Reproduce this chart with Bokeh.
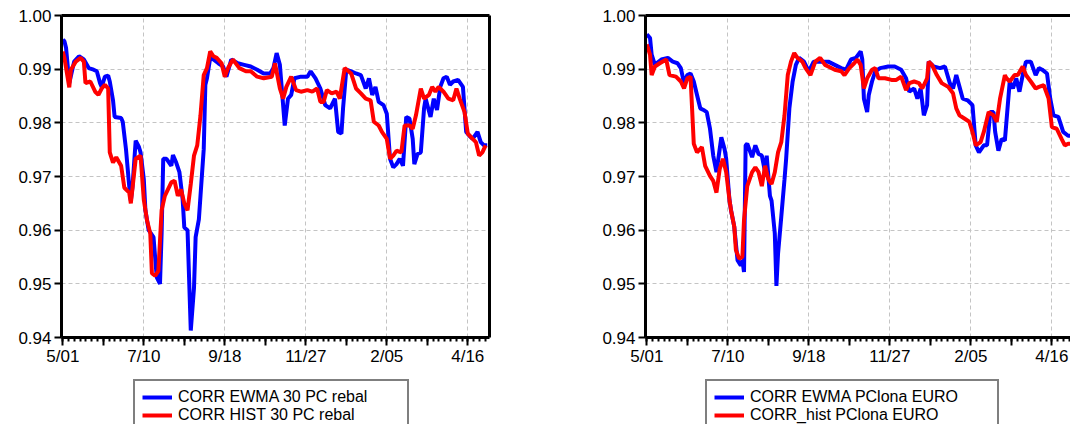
from bokeh.plotting import figure
from bokeh.models import (FixedTicker, LinearAxis, Legend, LegendItem, Range1d,
                          PrintfTickFormatter)
from bokeh.layouts import row, column
from bokeh.embed import file_html
from bokeh.resources import INLINE

# ---------------- data (observation index, correlation) ----------------
X_TICKS = [0, 50, 100, 150, 200, 250]
X_LABELS = ["5/01", "7/10", "9/18", "11/27", "2/05", "4/16"]
Y_TICKS = [0.94, 0.95, 0.96, 0.97, 0.98, 0.99, 1.00]

# left panel: 30 PC rebal
ewma30_x = [0, 1, 2, 4, 7, 10, 13, 16, 19, 21,
            23, 24, 26, 28, 29, 31, 32, 36, 37, 39,
            41, 42, 43, 45, 47, 48, 50, 51, 53, 56,
            58, 60, 61, 62, 64, 67, 68, 70, 72, 74,
            75, 77, 79, 81, 82, 84, 85, 87, 88, 89,
            91, 93, 96, 99, 101, 104, 108, 112, 116, 120,
            124, 128, 130, 132, 134, 136, 137, 139, 141, 143,
            147, 151, 153, 156, 159, 162, 165, 168, 170, 172,
            173, 175, 178, 181, 184, 187, 189, 191, 193, 195,
            198, 200, 202, 204, 206, 208, 210, 212, 214, 216,
            217, 219, 221, 223, 224, 227, 229, 231, 233, 235,
            237, 239, 241, 244, 247, 249, 251, 253, 256, 258,
            260, 262]
ewma30_y = [0.9955, 0.9952, 0.9940, 0.9874, 0.9914, 0.9924, 0.9918, 0.9902, 0.9899, 0.9896,
            0.9874, 0.9867, 0.9886, 0.9888, 0.9877, 0.9842, 0.9811, 0.9809, 0.9802, 0.9751,
            0.9682, 0.9655, 0.9680, 0.9767, 0.9755, 0.9745, 0.9695, 0.9637, 0.9600, 0.9587,
            0.9512, 0.9500, 0.9594, 0.9733, 0.9733, 0.9720, 0.9740, 0.9726, 0.9708, 0.9657,
            0.9605, 0.9600, 0.9413, 0.9493, 0.9587, 0.9620, 0.9664, 0.9751, 0.9871, 0.9883,
            0.9921, 0.9918, 0.9911, 0.9905, 0.9886, 0.9918, 0.9911, 0.9908, 0.9905, 0.9899,
            0.9892, 0.9892, 0.9902, 0.9930, 0.9908, 0.9833, 0.9795, 0.9845, 0.9852, 0.9883,
            0.9886, 0.9886, 0.9896, 0.9883, 0.9864, 0.9833, 0.9827, 0.9845, 0.9783, 0.9780,
            0.9827, 0.9899, 0.9896, 0.9892, 0.9889, 0.9864, 0.9883, 0.9852, 0.9867, 0.9839,
            0.9833, 0.9817, 0.9733, 0.9717, 0.9723, 0.9733, 0.9720, 0.9811, 0.9808, 0.9770,
            0.9723, 0.9742, 0.9745, 0.9827, 0.9845, 0.9811, 0.9845, 0.9824, 0.9867, 0.9883,
            0.9886, 0.9871, 0.9877, 0.9880, 0.9867, 0.9783, 0.9776, 0.9770, 0.9783, 0.9764,
            0.9758, 0.9758]

hist30_x = [0, 1, 4, 5, 8, 11, 13, 14, 17, 20,
            22, 24, 26, 28, 29, 31, 33, 36, 38, 41,
            42, 45, 48, 50, 52, 54, 55, 57, 59, 61,
            63, 67, 69, 71, 73, 75, 77, 79, 81, 83,
            85, 87, 89, 91, 93, 95, 98, 100, 102, 105,
            109, 113, 116, 120, 124, 129, 131, 134, 136, 138,
            141, 144, 147, 151, 154, 157, 159, 161, 163, 166,
            169, 171, 174, 178, 181, 184, 187, 190, 192, 195,
            197, 200, 202, 204, 206, 209, 211, 214, 216, 218,
            221, 223, 226, 228, 230, 232, 235, 238, 241, 243,
            245, 248, 250, 253, 255, 257, 259, 261]
hist30_y = [0.9933, 0.9921, 0.9866, 0.9899, 0.9914, 0.9921, 0.9914, 0.9874, 0.9877, 0.9858,
            0.9852, 0.9864, 0.9871, 0.9864, 0.9745, 0.9726, 0.9736, 0.9720, 0.9679, 0.9670,
            0.9650, 0.9733, 0.9739, 0.9657, 0.9618, 0.9594, 0.9520, 0.9515, 0.9524, 0.9637,
            0.9664, 0.9689, 0.9692, 0.9664, 0.9676, 0.9650, 0.9637, 0.9686, 0.9739, 0.9758,
            0.9814, 0.9889, 0.9902, 0.9933, 0.9924, 0.9921, 0.9911, 0.9886, 0.9902, 0.9918,
            0.9902, 0.9896, 0.9896, 0.9886, 0.9883, 0.9886, 0.9911, 0.9864, 0.9845, 0.9867,
            0.9886, 0.9861, 0.9858, 0.9861, 0.9858, 0.9864, 0.9839, 0.9839, 0.9861, 0.9855,
            0.9858, 0.9845, 0.9902, 0.9892, 0.9864, 0.9855, 0.9845, 0.9842, 0.9802, 0.9795,
            0.9783, 0.9770, 0.9733, 0.9739, 0.9748, 0.9745, 0.9795, 0.9795, 0.9789, 0.9814,
            0.9864, 0.9845, 0.9852, 0.9867, 0.9858, 0.9867, 0.9858, 0.9845, 0.9842, 0.9864,
            0.9845, 0.9820, 0.9780, 0.9770, 0.9764, 0.9739, 0.9745, 0.9758]

# right panel: PClona EURO
ewma_euro_x = [0, 2, 3, 5, 6, 9, 13, 16, 19, 21,
               23, 25, 27, 29, 31, 33, 35, 37, 39, 41,
               43, 46, 48, 49, 51, 52, 54, 56, 58, 59,
               60, 61, 62, 65, 67, 69, 71, 73, 74, 76,
               77, 79, 80, 81, 83, 85, 86, 88, 90, 92,
               94, 97, 100, 103, 106, 108, 112, 116, 120, 123,
               126, 129, 132, 133, 134, 136, 137, 139, 141, 144,
               149, 153, 157, 160, 162, 165, 167, 169, 171, 173,
               174, 177, 181, 184, 187, 189, 191, 193, 195, 198,
               201, 203, 205, 208, 210, 212, 214, 215, 217, 219,
               221, 224, 226, 228, 230, 232, 234, 237, 240, 242,
               244, 247, 249, 251, 254, 257, 260, 262]
ewma_euro_y = [0.9965, 0.9958, 0.9927, 0.9908, 0.9911, 0.9918, 0.9921, 0.9914, 0.9911, 0.9902,
               0.9874, 0.9889, 0.9892, 0.9877, 0.9852, 0.9827, 0.9824, 0.9820, 0.9789, 0.9739,
               0.9708, 0.9773, 0.9751, 0.9733, 0.9657, 0.9637, 0.9606, 0.9544, 0.9534, 0.9544,
               0.9522, 0.9758, 0.9761, 0.9736, 0.9758, 0.9742, 0.9739, 0.9708, 0.9739, 0.9664,
               0.9655, 0.9594, 0.9496, 0.9556, 0.9625, 0.9695, 0.9733, 0.9827, 0.9877, 0.9908,
               0.9921, 0.9914, 0.9896, 0.9914, 0.9914, 0.9914, 0.9914, 0.9908, 0.9902, 0.9899,
               0.9918, 0.9921, 0.9933, 0.9918, 0.9845, 0.9820, 0.9852, 0.9877, 0.9896, 0.9902,
               0.9905, 0.9905, 0.9899, 0.9883, 0.9858, 0.9864, 0.9845, 0.9864, 0.9814, 0.9833,
               0.9914, 0.9905, 0.9902, 0.9905, 0.9874, 0.9864, 0.9889, 0.9867, 0.9845, 0.9842,
               0.9833, 0.9758, 0.9745, 0.9758, 0.9758, 0.9820, 0.9820, 0.9783, 0.9748, 0.9770,
               0.9767, 0.9877, 0.9864, 0.9883, 0.9858, 0.9889, 0.9914, 0.9914, 0.9889, 0.9902,
               0.9899, 0.9892, 0.9845, 0.9814, 0.9811, 0.9783, 0.9776, 0.9776]

hist_euro_x = [0, 2, 3, 5, 8, 12, 14, 18, 21, 23,
               25, 27, 29, 31, 34, 36, 39, 41, 43, 45,
               47, 49, 51, 52, 54, 55, 57, 59, 60, 62,
               65, 67, 69, 71, 73, 75, 77, 79, 81, 83,
               85, 87, 89, 91, 93, 96, 98, 101, 104, 107,
               110, 112, 116, 120, 122, 125, 128, 130, 132, 134,
               136, 139, 141, 143, 147, 151, 154, 157, 160, 162,
               165, 168, 170, 173, 174, 176, 179, 182, 186, 189,
               191, 193, 196, 199, 201, 203, 206, 208, 211, 214,
               216, 218, 221, 222, 224, 227, 229, 232, 234, 237,
               240, 242, 245, 248, 250, 253, 256, 258, 260, 262]
hist_euro_y = [0.9946, 0.9927, 0.9889, 0.9905, 0.9911, 0.9918, 0.9889, 0.9886, 0.9877, 0.9864,
               0.9883, 0.9886, 0.9761, 0.9745, 0.9755, 0.9720, 0.9701, 0.9692, 0.9670, 0.9714,
               0.9733, 0.9708, 0.9657, 0.9637, 0.9606, 0.9563, 0.9547, 0.9550, 0.9619, 0.9682,
               0.9708, 0.9717, 0.9708, 0.9682, 0.9720, 0.9695, 0.9686, 0.9708, 0.9745, 0.9764,
               0.9814, 0.9889, 0.9914, 0.9930, 0.9921, 0.9914, 0.9902, 0.9889, 0.9914, 0.9921,
               0.9908, 0.9905, 0.9899, 0.9896, 0.9889, 0.9902, 0.9911, 0.9918, 0.9908, 0.9864,
               0.9883, 0.9899, 0.9902, 0.9883, 0.9883, 0.9880, 0.9880, 0.9886, 0.9861, 0.9874,
               0.9877, 0.9874, 0.9864, 0.9883, 0.9914, 0.9908, 0.9889, 0.9874, 0.9867, 0.9855,
               0.9827, 0.9814, 0.9808, 0.9802, 0.9783, 0.9758, 0.9764, 0.9783, 0.9820, 0.9814,
               0.9802, 0.9845, 0.9889, 0.9883, 0.9877, 0.9889, 0.9889, 0.9905, 0.9889, 0.9877,
               0.9864, 0.9867, 0.9870, 0.9845, 0.9792, 0.9789, 0.9770, 0.9758, 0.9761, 0.9761]

LEFT_LABELS = ["CORR EWMA 30 PC rebal", "CORR HIST 30 PC rebal"]
RIGHT_LABELS = ["CORR EWMA PClona EURO", "CORR_hist PClona EURO"]

FONT = "Liberation Sans"
BLUE = "#0000ff"
RED = "#ff0000"
LW = 4


def border_axis():
    ax = LinearAxis(ticker=FixedTicker(ticks=[]))
    ax.axis_line_width = 3
    ax.axis_line_color = "black"
    ax.major_tick_out = 0
    ax.major_tick_in = 0
    ax.minor_tick_out = 0
    ax.minor_tick_in = 0
    ax.major_tick_line_color = None
    ax.minor_tick_line_color = None
    ax.major_label_text_font_size = "0px"
    ax.major_label_standoff = 0
    return ax


def make_panel(width, left_b, right_b, x_end, bx, by, rx, ry, right_border):
    p = figure(width=width, height=378, output_backend="svg", toolbar_location=None,
               x_range=Range1d(-0.8, x_end), y_range=Range1d(0.94, 1.0),
               min_border_left=left_b, min_border_right=right_b,
               min_border_top=15, min_border_bottom=41)
    p.outline_line_color = None
    p.background_fill_color = "white"
    p.border_fill_color = "white"

    medium = [25, 75, 125, 175, 225]
    minor = [i * 50 / 14 for i in range(0, 75)]
    xa = p.xaxis[0]
    xa.ticker = FixedTicker(ticks=sorted(X_TICKS + medium), minor_ticks=minor)
    ov = {float(t): l for t, l in zip(X_TICKS, X_LABELS)}
    ov.update({float(m): "" for m in medium})
    xa.major_label_overrides = ov
    ya = p.yaxis[0]
    ya.ticker = FixedTicker(ticks=Y_TICKS)
    ya.formatter = PrintfTickFormatter(format="%.2f")
    for ax in (xa, ya):
        ax.axis_line_width = 3
        ax.axis_line_color = "black"
        ax.major_tick_line_width = 2
        ax.major_tick_line_color = "black"
        ax.minor_tick_line_width = 2
        ax.major_tick_in = 0
        ax.minor_tick_in = 0
        ax.major_label_text_font = FONT
        ax.major_label_text_font_size = "17px"
        ax.major_label_text_color = "black"
    xa.minor_tick_line_color = "black"
    ya.minor_tick_line_color = None
    xa.major_tick_out = 8
    xa.minor_tick_out = 4
    xa.major_label_standoff = 1
    ya.major_tick_out = 7
    ya.major_label_standoff = 3

    p.add_layout(border_axis(), "above")
    if right_border:
        p.add_layout(border_axis(), "right")

    p.xgrid.ticker = FixedTicker(ticks=X_TICKS[1:])
    p.ygrid.ticker = FixedTicker(ticks=Y_TICKS[1:-1])
    for g in (p.xgrid[0], p.ygrid[0]):
        g.grid_line_color = "#c4c4c4"
        g.grid_line_dash = "4 3"
        g.grid_line_width = 1

    p.line(bx, by, line_color=BLUE, line_width=LW)
    p.line(rx, ry, line_color=RED, line_width=LW)
    return p


def make_legend(width, left_b, right_b, labels, leg_x, label_width, bx, by, rx, ry):
    f = figure(width=width, height=46, output_backend="svg", toolbar_location=None,
               x_axis_type=None, y_axis_type=None,
               x_range=Range1d(0, 1), y_range=Range1d(0, 1),
               min_border_left=left_b, min_border_right=right_b,
               min_border_top=0, min_border_bottom=0)
    f.outline_line_color = None
    f.xgrid.visible = False
    f.ygrid.visible = False
    f.background_fill_color = "white"
    f.border_fill_color = "white"
    # legend proxies (hidden; only their legend glyphs are shown)
    rb = f.line(bx, by, line_color=BLUE, line_width=LW, visible=False)
    rr = f.line(rx, ry, line_color=RED, line_width=LW, visible=False)
    leg = Legend(items=[LegendItem(label=labels[0], renderers=[rb]),
                        LegendItem(label=labels[1], renderers=[rr])],
                 location=(leg_x, -9))
    leg.border_line_color = "black"
    leg.border_line_width = 2
    leg.background_fill_color = "white"
    leg.background_fill_alpha = 1
    leg.padding = 7
    leg.spacing = 0
    leg.margin = 0
    leg.glyph_width = 30
    leg.glyph_height = 18
    leg.label_height = 18
    leg.label_width = label_width
    leg.label_standoff = 6
    leg.label_text_font = FONT
    leg.label_text_font_size = "16px"
    leg.label_text_color = "black"
    f.add_layout(leg)
    return f


p1 = make_panel(580, 61, 91, 263.4, ewma30_x, ewma30_y, hist30_x, hist30_y, True)
p2 = make_panel(490, 65, 0, 261.5, ewma_euro_x, ewma_euro_y, hist_euro_x, hist_euro_y, False)
l1 = make_legend(580, 61, 91, LEFT_LABELS, 72, 222, ewma30_x, ewma30_y, hist30_x, hist30_y)
l2 = make_legend(490, 65, 0, RIGHT_LABELS, 60, 240,
                 ewma_euro_x, ewma_euro_y, hist_euro_x, hist_euro_y)

layout = row(column(p1, l1), column(p2, l2))
open("out.html", "w").write(file_html(layout, INLINE))
